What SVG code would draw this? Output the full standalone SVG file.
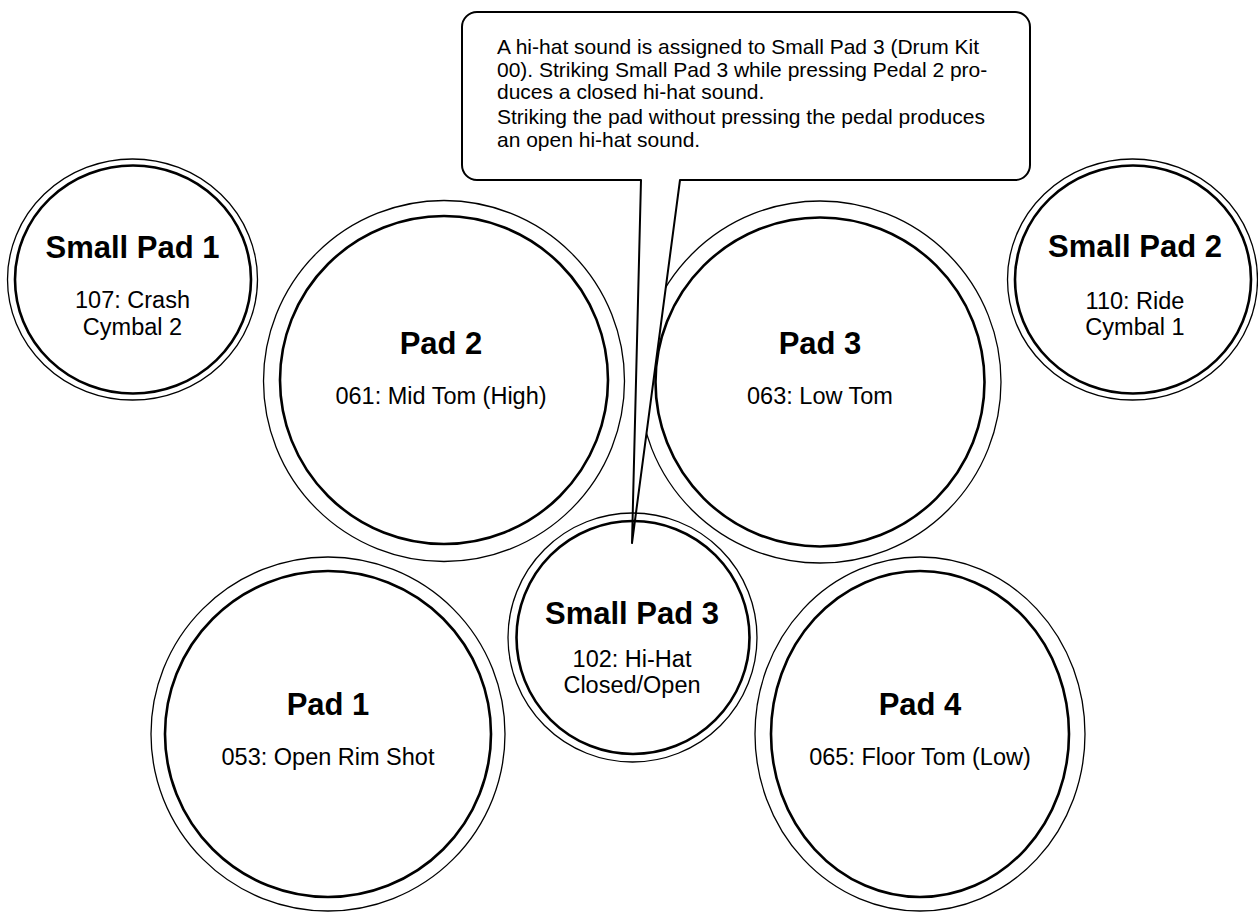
<svg xmlns="http://www.w3.org/2000/svg" width="1258" height="913" viewBox="0 0 1258 913">
<style>
.outer{fill:#fff;stroke:#000;stroke-width:1.3}
.inner{fill:none;stroke:#000;stroke-width:2.6}
.title{font-family:"Liberation Sans",Arial,sans-serif;font-weight:bold;font-size:31px;text-anchor:middle;fill:#000}
.sub{font-family:"Liberation Sans",Arial,sans-serif;font-size:23.5px;text-anchor:middle;fill:#000}
.note{font-family:"Liberation Sans",Arial,sans-serif;font-size:21px;fill:#000}
.callout{fill:#fff;stroke:#000;stroke-width:2;stroke-linejoin:round}
</style>
<rect width="1258" height="913" fill="#fff"/>
<g id="small-pad-1">
<ellipse class="outer" cx="132.5" cy="279.5" rx="125" ry="120.5"/>
<ellipse class="inner" cx="133" cy="279.5" rx="118" ry="114"/>
<text class="title" x="132.5" y="258">Small Pad 1</text>
<text class="sub" x="132.5" y="308">107: Crash</text>
<text class="sub" x="132.5" y="335">Cymbal 2</text>
</g>
<g id="small-pad-2">
<ellipse class="outer" cx="1132.5" cy="279.5" rx="125" ry="120.5"/>
<ellipse class="inner" cx="1133" cy="279.5" rx="118" ry="114"/>
<text class="title" x="1135" y="257">Small Pad 2</text>
<text class="sub" x="1135" y="309">110: Ride</text>
<text class="sub" x="1135" y="335">Cymbal 1</text>
</g>
<g id="pad-1">
<circle class="outer" cx="328" cy="734" r="177"/>
<circle class="inner" cx="328" cy="734" r="163"/>
<text class="title" x="328" y="715">Pad 1</text>
<text class="sub" x="328" y="765">053: Open Rim Shot</text>
</g>
<g id="pad-4">
<ellipse class="outer" cx="920" cy="734" rx="165" ry="177"/>
<ellipse class="inner" cx="920" cy="734" rx="149" ry="163"/>
<text class="title" x="920" y="715">Pad 4</text>
<text class="sub" x="920" y="765">065: Floor Tom (Low)</text>
</g>
<g id="pad-2">
<circle class="outer" cx="444" cy="381" r="180.5"/>
<circle class="inner" cx="444" cy="380" r="164"/>
<text class="title" x="441" y="354">Pad 2</text>
<text class="sub" x="441" y="404">061: Mid Tom (High)</text>
</g>
<g id="pad-3">
<circle class="outer" cx="820" cy="382" r="181"/>
<circle class="inner" cx="820" cy="382" r="164.5"/>
<text class="title" x="820" y="354">Pad 3</text>
<text class="sub" x="820" y="404">063: Low Tom</text>
</g>
<g id="connectors">
<path id="callout" class="callout" d="M477,12 H1015 A15,15 0 0 1 1030,27 V165 A15,15 0 0 1 1015,180 H680 L632,543 L641,180 H477 A15,15 0 0 1 462,165 V27 A15,15 0 0 1 477,12 Z"/>
</g>
<g id="note">
<text class="note" x="497" y="54">A hi-hat sound is assigned to Small Pad 3 (Drum Kit</text>
<text class="note" x="497" y="76.5">00). Striking Small Pad 3 while pressing Pedal 2 pro-</text>
<text class="note" x="497" y="99">duces a closed hi-hat sound.</text>
<text class="note" x="497" y="124">Striking the pad without pressing the pedal produces</text>
<text class="note" x="497" y="146.5">an open hi-hat sound.</text>
</g>
<g id="small-pad-3">
<circle class="outer" cx="632.5" cy="637.5" r="124.5" style="fill:none"/>
<circle class="inner" cx="633" cy="637.5" r="116.5"/>
<text class="title" x="632" y="624">Small Pad 3</text>
<text class="sub" x="632" y="667">102: Hi-Hat</text>
<text class="sub" x="632" y="693">Closed/Open</text>
</g>
</svg>
